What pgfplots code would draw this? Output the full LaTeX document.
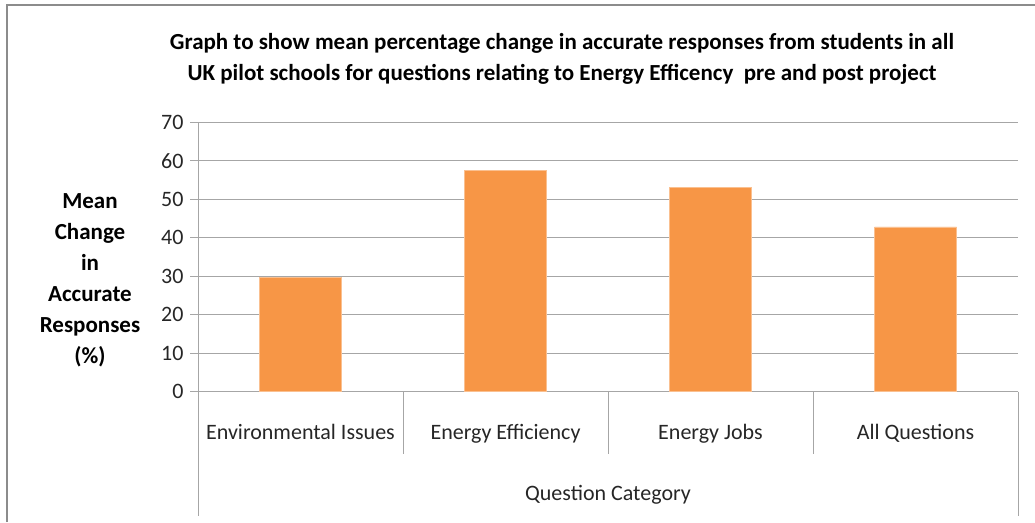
\documentclass[border=0pt]{standalone}
\usepackage{pgfplots}
\pgfplotsset{compat=1.18}
\usepackage{fontspec}
\setmainfont{Carlito}
\definecolor{barorange}{HTML}{F79646}
\definecolor{gridgray}{HTML}{A6A6A6}
\definecolor{bordergray}{HTML}{8C8C8C}
\begin{document}
\begin{tikzpicture}
% canvas and outer frame
\path[use as bounding box] (0pt,0pt) rectangle (1035pt,522pt);
\draw[bordergray, line width=2pt] (7pt,0pt) -- (7pt,516.5pt) -- (1035pt,516.5pt);
\begin{axis}[
  at={(198pt,130.3pt)}, anchor=south west,
  width=820pt, height=269.4pt, scale only axis,
  xmin=-0.5, xmax=3.5, ymin=0, ymax=70,
  ytick={0,10,...,70},
  xtick={0,1,2,3},
  xticklabels={Environmental Issues, Energy Efficiency, Energy Jobs, All Questions},
  axis x line*=bottom, axis y line*=left,
  axis line style={gridgray, line width=1pt, -},
  ymajorgrids, grid style={gridgray, line width=1pt},
  ytick style={gridgray, line width=1pt},
  major tick length=8pt, tick align=outside,
  xtick style={draw=none},
  yticklabel style={font=\fontsize{22}{26}\selectfont, text=black!85, xshift=-3pt},
  xticklabel style={font=\fontsize{22}{26}\selectfont, text=black!85, anchor=base, yshift=-40pt},
  /pgf/number format/assume math mode=true,
  clip=false,
]
\addplot[ybar, bar width=82pt, fill=barorange, draw=barorange!60!white, line width=0.6pt]
  coordinates {(0,29.8) (1,57.4) (2,53.1) (3,42.8)};
\draw[gridgray, line width=1pt] (axis cs:0.5,0) -- ++(0pt,-62pt);
\draw[gridgray, line width=1pt] (axis cs:1.5,0) -- ++(0pt,-62pt);
\draw[gridgray, line width=1pt] (axis cs:2.5,0) -- ++(0pt,-62pt);
\draw[gridgray, line width=1pt] (axis cs:-0.5,0) -- ++(0pt,-124pt);
\draw[gridgray, line width=1pt] (axis cs:3.5,0) -- ++(0pt,-124pt);
\end{axis}
\node[font=\fontsize{22}{26}\selectfont, text=black!85] at (608pt,27pt) {Question Category};
\node[align=center, font=\bfseries\fontsize{23}{31}\selectfont] at (562pt,463pt)
  {Graph to show mean percentage change in accurate responses from students in all\\
   UK pilot schools for questions relating to Energy Efficency\ \ pre and post project};
\node[align=center, font=\bfseries\fontsize{23}{31}\selectfont] at (90pt,242pt)
  {Mean\\Change\\in\\Accurate\\Responses\\(\%)};
\end{tikzpicture}
\end{document}
